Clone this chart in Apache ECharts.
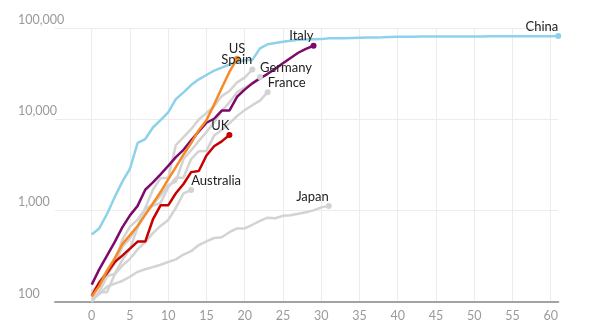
<!DOCTYPE html>
<html>
<head>
<meta charset="utf-8">
<script src="https://cdn.jsdelivr.net/npm/echarts@6/dist/echarts.min.js"></script>
<style>
html,body{margin:0;padding:0;background:#fff;}
#chart{width:589px;height:330px;}
</style>
</head>
<body>
<div id="chart"></div>
<script>
// Cumulative cases, by days since the 100th case (index = day)
const china = [548,643,920,1406,2075,2877,5509,6087,8141,9802,11891,16630,19716,23707,27440,30587,34110,36814,39829,42354,44386,44759,59895,66358,68413,70513,72434,74211,74619,75077,75550,77001,77022,77241,77754,78166,78600,78928,79356,79932,80136,80261,80386,80537,80690,80770,80823,80860,80887,80921,80932,80945,80977,81003,81033,81058,81102,81156,81250,81305,81435,81498];
const italy = [155,229,322,453,655,888,1128,1694,2036,2502,3089,3858,4636,5883,7375,9172,10149,12462,12462,17660,21157,24747,27980,31506,35713,41035,47021,53578,59138,63927];
const us = [115,150,220,300,430,540,680,900,1200,1600,2200,3000,4100,5500,7600,9800,14500,22000,33000,46000];
const spain = [120,165,222,259,400,500,673,1073,1695,2277,2277,5232,6391,7798,9942,11748,13910,17963,20410,25374,28603,35136];
const germany = [130,159,196,262,482,670,799,1040,1176,1457,1908,2078,3675,4585,5795,7272,9257,12327,15320,19848,22213,24873,29056];
const france = [100,130,191,204,288,380,656,957,1134,1217,1792,2289,2289,3672,4480,4513,6650,7652,9043,10871,12612,14282,16018,19856];
const uk = [116,164,207,274,322,384,459,459,801,1143,1143,1551,1960,2642,2716,4014,5067,5741,6726];
const australia = [107,128,128,200,250,297,377,452,568,681,791,1071,1549,1682];
const japan = [105,122,147,159,170,189,214,228,241,256,274,293,331,360,420,461,502,511,581,639,639,701,773,839,825,878,889,924,963,1007,1086,1128];

const xTicks = [0,5,10,15,20,25,30,35,40,45,50,55,60];
const yTicks = [100,1000,10000,100000];

const GREY = '#d3d3d3';
const countries = [
  {name:'Japan', values: japan, color: GREY, align:'right'},
  {name:'Australia', values: australia, color: GREY, align:'left'},
  {name:'France', values: france, color: GREY, align:'left'},
  {name:'Germany', values: germany, color: GREY, align:'left'},
  {name:'Spain', values: spain, color: GREY, align:'right'},
  {name:'China', values: china, color: '#8dd2ea', align:'right'},
  {name:'Italy', values: italy, color: '#7d0a6b', align:'right'},
  {name:'UK', values: uk, color: '#c70000', align:'right'},
  {name:'US', values: us, color: '#f58a26', align:'center'}
];

const series = countries.map(c => ({
  name: c.name,
  type: 'line',
  symbol: 'none',
  showSymbol: true,
  clip: false,
  animation: false,
  lineStyle: {color: c.color, width: 2.5},
  itemStyle: {color: c.color},
  emphasis: {disabled: true},
  data: c.values.map((v, i) => {
    if (i === c.values.length - 1) {
      return {
        value: [i, v],
        symbol: 'circle',
        symbolSize: 6,
        label: {
          show: true,
          formatter: c.name,
          position: 'top',
          distance: 0,
          align: c.align,
          color: '#222222',
          fontSize: 13,
          fontFamily: 'Lato'
        }
      };
    }
    return [i, v];
  })
}));

const chart = echarts.init(document.getElementById('chart'), null, {renderer: 'canvas'});
chart.setOption({
  backgroundColor: '#ffffff',
  animation: false,
  grid: {left: 55, right: 30.7, top: 28, bottom: 28, containLabel: false},
  xAxis: {
    type: 'value',
    min: -4.8,
    max: 61,
    axisLine: {show: true, lineStyle: {color: '#a3a3a3', width: 2}},
    axisTick: {show: false, customValues: xTicks},
    axisLabel: {customValues: xTicks, color: '#9a9a9a', fontSize: 12.5, fontFamily: 'Lato', margin: 7},
    splitLine: {show: true, lineStyle: {color: '#ececec', width: 1}}
  },
  yAxis: {
    type: 'log',
    logBase: 10,
    min: 100,
    max: 100000,
    axisLine: {show: false},
    axisTick: {show: false},
    axisLabel: {
      customValues: yTicks,
      align: 'left',
      verticalAlign: 'bottom',
      margin: 37,
      padding: [0,0,2,0],
      color: '#9a9a9a',
      fontSize: 12.5,
      fontFamily: 'Lato',
      formatter: v => Math.round(v).toLocaleString('en-US')
    },
    splitLine: {show: true, lineStyle: {color: '#ececec', width: 1}}
  },
  series: series
});
</script>
</body>
</html>
